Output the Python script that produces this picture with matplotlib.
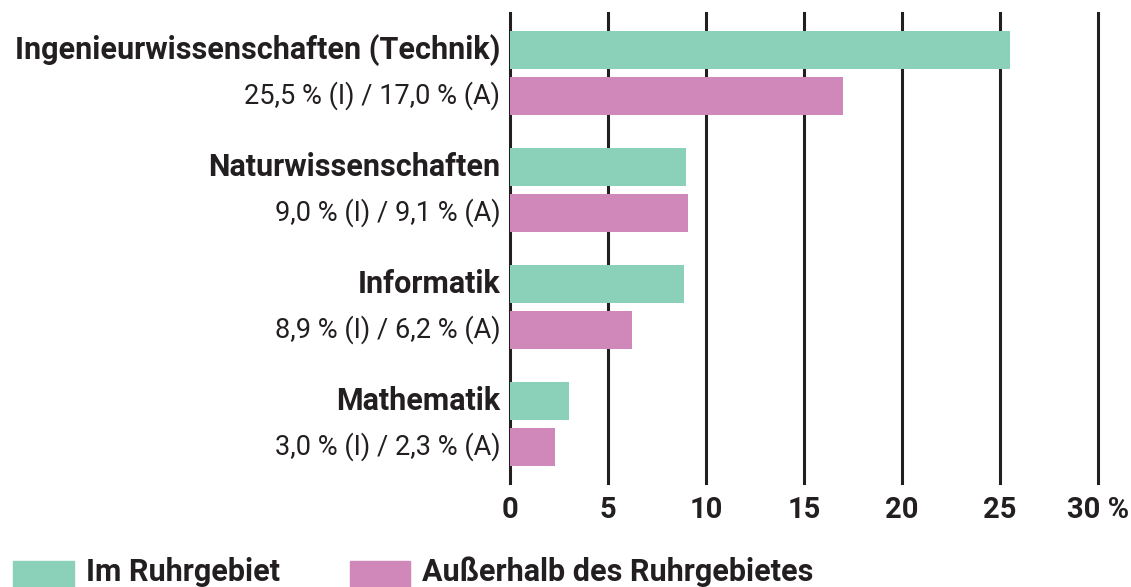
import matplotlib.pyplot as plt
from matplotlib.patches import Rectangle

categories = ['Ingenieurwissenschaften (Technik)', 'Naturwissenschaften',
              'Informatik', 'Mathematik']
im_ruhrgebiet = [25.5, 9.0, 8.9, 3.0]
ausserhalb = [17.0, 9.1, 6.2, 2.3]
ticks = [0, 5, 10, 15, 20, 25, 30]
tick_labels = ['0', '5', '10', '15', '20', '25', '30 %']
legend_labels = ['Im Ruhrgebiet', 'Außerhalb des Ruhrgebietes']

green = '#8bd1b9'
pink = '#d088bb'
dark = '#231f20'

plt.rcParams['font.family'] = ['Roboto', 'DejaVu Sans']

fig = plt.figure(figsize=(11.31, 5.87), dpi=100)
W, H = 1131, 587
ax = fig.add_axes([510 / W, 1 - 483 / H, (1098 - 510) / W, (483 - 13) / H])

off = 0.197
bh = 0.325
ys = list(range(len(categories)))
ax.barh([y - off for y in ys], im_ruhrgebiet, height=bh, color=green, zorder=2)
ax.barh([y + off for y in ys], ausserhalb, height=bh, color=pink, zorder=2)

for t in ticks:
    ax.axvline(t, color=dark, lw=2.2, zorder=1, clip_on=False)

ax.set_xlim(0, 30)
ax.set_ylim(3.506, -0.51)
for s in ax.spines.values():
    s.set_visible(False)
ax.set_yticks([])
ax.set_xticks(ticks)
ax.set_xticklabels(tick_labels, fontsize=21, fontweight='bold', color=dark)
ax.tick_params(axis='x', length=0, pad=9)

for y, c, a, b in zip(ys, categories, im_ruhrgebiet, ausserhalb):
    ax.text(-0.5, y - off, c, ha='right', va='center', fontsize=22,
            fontweight='bold', color=dark)
    sub = f'{a:.1f} % (I) / {b:.1f} % (A)'.replace('.', ',')
    ax.text(-0.5, y + off, sub, ha='right', va='center', fontsize=19.5,
            color=dark)

# legend
for x0, x1, lab in [(13, 74, legend_labels[0]), (350, 410, legend_labels[1])]:
    fig.add_artist(Rectangle((x0 / W, 0), (x1 - x0) / W, 26 / H,
                             transform=fig.transFigure, color=green if x0 == 13 else pink))
    fig.text((x1 + 12) / W, 6 / H, lab, ha='left', va='baseline', fontsize=22,
             fontweight='bold', color=dark)

fig.savefig('out.png', dpi=100)
